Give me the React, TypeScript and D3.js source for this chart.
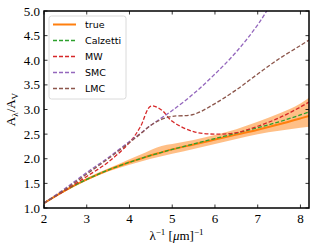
import React, { useRef, useEffect } from 'react';
import * as d3 from 'd3';

// inverse wavelength grid [um^-1]
const xs = [2, 2.5, 3, 3.5, 4, 4.25, 4.5, 4.75, 5, 5.5, 6, 6.5, 7, 7.5, 8, 8.2];

const trueVals = [1.10, 1.36, 1.58, 1.77, 1.93, 2.00, 2.07, 2.13, 2.19, 2.29, 2.39, 2.49, 2.59, 2.70, 2.82, 2.87];
const bandLow = [1.09, 1.34, 1.56, 1.74, 1.88, 1.94, 2.00, 2.05, 2.10, 2.20, 2.30, 2.40, 2.50, 2.57, 2.63, 2.65];
const bandHigh = [1.12, 1.38, 1.61, 1.80, 1.99, 2.08, 2.18, 2.26, 2.30, 2.38, 2.48, 2.60, 2.75, 2.92, 3.12, 3.24];
const calzetti = [1.10, 1.36, 1.58, 1.77, 1.93, 2.00, 2.07, 2.13, 2.19, 2.30, 2.41, 2.52, 2.63, 2.75, 2.89, 2.95];
const mw = [1.10, 1.36, 1.64, 1.93, 2.33, 2.64, 3.07, 2.99, 2.76, 2.55, 2.50, 2.53, 2.66, 2.83, 3.05, 3.15];
const smc = [1.10, 1.40, 1.72, 2.02, 2.35, 2.51, 2.68, 2.83, 2.98, 3.32, 3.72, 4.17, 4.72, 5.40, 6.00, 6.25];
const lmc = [1.10, 1.38, 1.69, 2.00, 2.33, 2.50, 2.68, 2.80, 2.86, 2.90, 3.12, 3.40, 3.72, 4.03, 4.30, 4.41];

const xTicks = [2, 3, 4, 5, 6, 7, 8];
const yTicks = [1.0, 1.5, 2.0, 2.5, 3.0, 3.5, 4.0, 4.5, 5.0];

const series = [
  { name: 'true', vals: trueVals, color: '#ff7f0e', dash: null, width: 2 },
  { name: 'Calzetti', vals: calzetti, color: '#2ca02c', dash: '4,2', width: 1.3 },
  { name: 'MW', vals: mw, color: '#d62728', dash: '4,2', width: 1.3 },
  { name: 'SMC', vals: smc, color: '#9467bd', dash: '4,2', width: 1.3 },
  { name: 'LMC', vals: lmc, color: '#8c564b', dash: '4,2', width: 1.3 },
];

const App = () => {
  const ref = useRef<SVGSVGElement>(null);

  useEffect(() => {
    const svg = d3.select(ref.current);
    svg.selectAll('*').remove();

    const left = 44, right = 309, top = 11, bottom = 208;
    const serif = '"Liberation Serif", "DejaVu Serif", serif';

    const x = d3.scaleLinear().domain([2, 8.2]).range([left, right]);
    const y = d3.scaleLinear().domain([1, 5]).range([bottom, top]);

    svg.append('clipPath').attr('id', 'plot-clip')
      .append('rect')
      .attr('x', left).attr('y', top)
      .attr('width', right - left).attr('height', bottom - top);

    const plot = svg.append('g').attr('clip-path', 'url(#plot-clip)');

    // uncertainty band
    const area = d3.area<number>()
      .x((d, i) => x(xs[i]))
      .y0((d, i) => y(bandLow[i]))
      .y1((d, i) => y(bandHigh[i]))
      .curve(d3.curveMonotoneX);
    plot.append('path')
      .attr('d', area(xs))
      .attr('fill', '#ff7f0e')
      .attr('fill-opacity', 0.5);

    const line = d3.line<number>()
      .x((d, i) => x(xs[i]))
      .y(d => y(d))
      .curve(d3.curveCatmullRom.alpha(0.5));

    series.forEach(s => {
      plot.append('path')
        .attr('d', line(s.vals))
        .attr('fill', 'none')
        .attr('stroke', s.color)
        .attr('stroke-width', s.width)
        .attr('stroke-dasharray', s.dash);
    });

    // ticks, pointing inward on all sides
    const tl = 3.5;
    const ticks = svg.append('g').attr('stroke', '#000').attr('stroke-width', 0.8);
    xTicks.forEach(t => {
      ticks.append('line').attr('x1', x(t)).attr('x2', x(t)).attr('y1', bottom).attr('y2', bottom - tl);
      ticks.append('line').attr('x1', x(t)).attr('x2', x(t)).attr('y1', top).attr('y2', top + tl);
      svg.append('text')
        .attr('x', x(t)).attr('y', bottom + 15)
        .attr('text-anchor', 'middle')
        .style('font-family', serif).style('font-size', '13px')
        .text(t);
    });
    yTicks.forEach(t => {
      ticks.append('line').attr('x1', left).attr('x2', left + tl).attr('y1', y(t)).attr('y2', y(t));
      ticks.append('line').attr('x1', right).attr('x2', right - tl).attr('y1', y(t)).attr('y2', y(t));
      svg.append('text')
        .attr('x', left - 4).attr('y', y(t) + 4.5)
        .attr('text-anchor', 'end')
        .style('font-family', serif).style('font-size', '13px')
        .text(t.toFixed(1));
    });

    // frame
    svg.append('rect')
      .attr('x', left).attr('y', top)
      .attr('width', right - left).attr('height', bottom - top)
      .attr('fill', 'none').attr('stroke', '#000').attr('stroke-width', 1.5);

    // x label
    const xl = svg.append('text')
      .attr('x', (left + right) / 2).attr('y', 240)
      .attr('text-anchor', 'middle')
      .style('font-family', serif).style('font-size', '13px');
    xl.append('tspan').text('λ');
    xl.append('tspan').attr('dy', -5).style('font-size', '9px').text('−1');
    xl.append('tspan').attr('dy', 5).text(' [');
    xl.append('tspan').style('font-style', 'italic').text('μ');
    xl.append('tspan').text('m]');
    xl.append('tspan').attr('dy', -5).style('font-size', '9px').text('−1');

    // y label
    const yl = svg.append('text')
      .attr('transform', `translate(15,${(top + bottom) / 2}) rotate(-90)`)
      .attr('text-anchor', 'middle')
      .style('font-family', serif).style('font-size', '13px');
    yl.append('tspan').text('A');
    yl.append('tspan').attr('dy', 3).style('font-size', '9px').text('λ');
    yl.append('tspan').attr('dy', -3).text('/A');
    yl.append('tspan').attr('dy', 3).style('font-size', '9px').text('V');

    // legend
    const legend = svg.append('g');
    legend.append('rect')
      .attr('x', 49).attr('y', 16)
      .attr('width', 77).attr('height', 83)
      .attr('rx', 2.5)
      .attr('fill', '#fff').attr('fill-opacity', 0.8)
      .attr('stroke', '#d0d0d0').attr('stroke-width', 0.8);
    series.forEach((s, i) => {
      const ly = 24.5 + i * 16;
      legend.append('line')
        .attr('x1', 53).attr('x2', 76).attr('y1', ly).attr('y2', ly)
        .attr('stroke', s.color)
        .attr('stroke-width', s.width)
        .attr('stroke-dasharray', s.dash);
      legend.append('text')
        .attr('x', 85).attr('y', ly + 3.5)
        .style('font-family', '"DejaVu Sans", sans-serif')
        .style('font-size', '9.5px')
        .text(s.name);
    });
  }, []);

  return (
    <svg ref={ref} width={315} height={250}
      style={{ position: 'absolute', left: 0, top: 0, background: '#fff' }} />
  );
};

export default App;
